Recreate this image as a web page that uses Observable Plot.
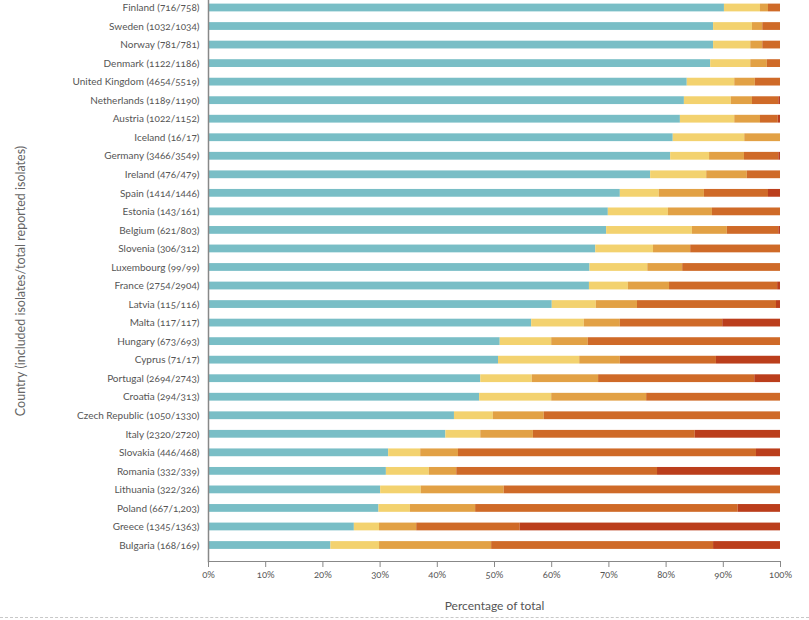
<!DOCTYPE html>
<html><head><meta charset="utf-8">
<script src="https://cdn.jsdelivr.net/npm/d3@7"></script>
<script src="https://cdn.jsdelivr.net/npm/@observablehq/plot@0.6"></script>
<style>
body{margin:0;background:#fff;}
#chart{width:809px;height:617px;border-bottom:1px dashed #c8c8c8;overflow:hidden;}
svg text{font-variant-numeric:oldstyle-nums;}
</style></head><body><div id="chart"></div>
<script>
const countries = [
  "Finland (716/758)","Sweden (1032/1034)","Norway (781/781)","Denmark (1122/1186)",
  "United Kingdom (4654/5519)","Netherlands (1189/1190)","Austria (1022/1152)","Iceland (16/17)",
  "Germany (3466/3549)","Ireland (476/479)","Spain (1414/1446)","Estonia (143/161)",
  "Belgium (621/803)","Slovenia (306/312)","Luxembourg (99/99)","France (2754/2904)",
  "Latvia (115/116)","Malta (117/117)","Hungary (673/693)","Cyprus (71/17)",
  "Portugal (2694/2743)","Croatia (294/313)","Czech Republic (1050/1330)","Italy (2320/2720)",
  "Slovakia (446/468)","Romania (332/339)","Lithuania (322/326)","Poland (667/1,203)",
  "Greece (1345/1363)","Bulgaria (168/169)"
];
// segment percentages, left to right
const seg1 = [90.2,88.3,88.3,87.8,83.7,83.2,82.5,81.25,80.8,77.3,72.0,69.9,69.6,67.7,66.7,66.6,60.1,56.5,51.0,50.7,47.6,47.4,43.0,41.5,31.5,31.1,30.1,29.8,25.5,21.4];
const seg2 = [6.3,6.8,6.5,7.0,8.3,8.2,9.5,12.5,6.8,9.8,6.8,10.5,15.0,10.1,10.1,6.8,7.7,9.2,9.0,14.2,9.0,12.6,6.8,6.1,5.6,7.5,7.1,5.5,4.4,8.5];
const seg3 = [1.4,1.8,2.1,2.9,3.6,3.7,4.5,6.25,6.1,7.1,7.9,7.7,6.1,6.5,6.1,7.2,7.2,6.3,6.4,7.1,11.6,16.6,8.9,9.2,6.6,4.8,14.5,11.4,6.5,19.6];
const seg4 = [2.1,3.1,3.1,2.3,4.4,4.6,3.1,0,6.0,5.8,11.2,11.9,9.0,15.7,17.1,18.9,24.3,17.9,33.6,16.8,27.3,23.4,41.3,28.3,52.1,35.1,48.3,45.9,18.1,38.8];
const seg5 = [0,0,0,0,0,0.3,0.4,0,0.3,0,2.1,0,0.3,0,0,0.5,0.7,10.1,0,11.2,4.5,0,0,14.9,4.2,21.5,0,7.4,45.5,11.7];
const seriesNames = ["Category 1","Category 2","Category 3","Category 4","Category 5"];
const seriesColors = ["#79bec6","#f3d26f","#e2a145","#cf6a28","#bb3e1c"];
const xTicks = [0,10,20,30,40,50,60,70,80,90,100];
const xTitle = "Percentage of total";
const yTitle = "Country (included isolates/total reported isolates)";

const segs = [seg1,seg2,seg3,seg4,seg5];
const rows = [];
countries.forEach((c,i)=>segs.forEach((arr,j)=>rows.push({country:c, series:seriesNames[j], value:arr[i]})));

const chart = Plot.plot({
  width:809, height:617,
  marginLeft:208, marginRight:29, marginTop:0, marginBottom:56,
  style:{fontFamily:"Lato, 'Open Sans', sans-serif", fontSize:"10px", color:"#555", background:"#fff"},
  x:{domain:[0,100]},
  y:{domain:countries, range:[3.6,548.9], paddingInner:0.58, paddingOuter:0, round:false},
  color:{domain:seriesNames, range:seriesColors},
  marks:[
    Plot.barX(rows, Plot.stackX({y:"country", x:"value", fill:"series", order:null})),
    Plot.axisY({tickSize:0, tickPadding:9, label:null, fill:"#555", fontSize:10}),
    Plot.axisX({ticks:xTicks, tickFormat:d=>d+"%", tickSize:6, tickPadding:4, label:null, stroke:"#888", fill:"#555", fontSize:9.5}),
    Plot.frame({anchor:"left", stroke:"#888", strokeWidth:1.5}),
    Plot.frame({anchor:"bottom", stroke:"#888"}),
    Plot.text([xTitle], {frameAnchor:"bottom", dy:48, fontSize:12, fill:"#555"}),
    Plot.text([yTitle], {frameAnchor:"left", textAnchor:"middle", rotate:-90, dx:-188, fontSize:12.5, fill:"#666"})
  ]
});
document.getElementById("chart").append(chart);
</script>
</body></html>
